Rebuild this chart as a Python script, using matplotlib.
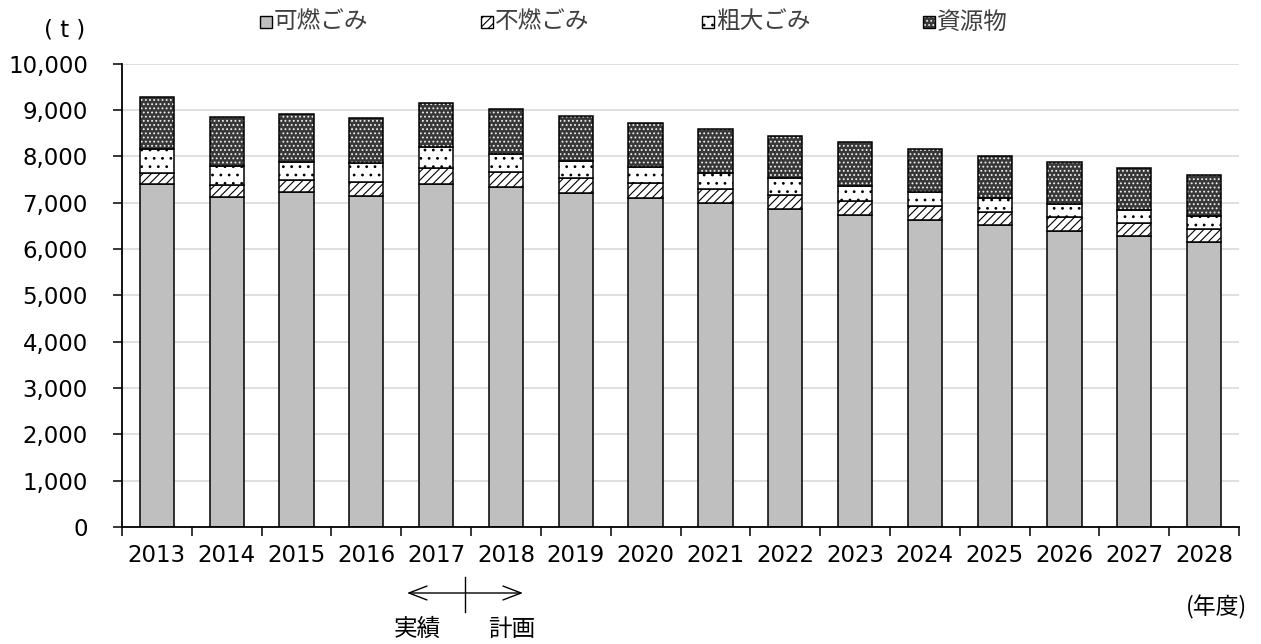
import matplotlib
matplotlib.use("Agg")
import matplotlib.pyplot as plt
from matplotlib.patches import Rectangle
import numpy as np

plt.rcParams['font.family'] = ['DejaVu Sans', 'Noto Sans CJK JP']
plt.rcParams['hatch.linewidth'] = 0.8

years = ['2013', '2014', '2015', '2016', '2017', '2018', '2019', '2020',
         '2021', '2022', '2023', '2024', '2025', '2026', '2027', '2028']
kanen = [7390, 7115, 7220, 7150, 7390, 7330, 7210, 7095,
         6980, 6855, 6740, 6617, 6510, 6385, 6277, 6147]
funen = [250, 268, 260, 290, 353, 325, 317, 324,
         316, 318, 303, 318, 290, 303, 281, 282]
sodai = [520, 395, 405, 410, 447, 382, 368, 353,
         333, 346, 316, 288, 300, 275, 290, 274]
shigen = [1120, 1066, 1020, 980, 966, 973, 965, 951,
          960, 923, 940, 937, 910, 917, 888, 888]
series_names = ['可燃ごみ', '不燃ごみ', '粗大ごみ', '資源物']
yticks = [0, 1000, 2000, 3000, 4000, 5000, 6000, 7000, 8000, 9000, 10000]

W, H = 1261, 644
fig = plt.figure(figsize=(W / 100, H / 100), dpi=100)
ax = fig.add_axes([122 / W, (H - 527) / H, (1239 - 122) / W, (527 - 63.5) / H])

x = np.arange(len(years))
bw = 0.49
lw = 1.1
k = np.array(kanen, dtype=float)
f = np.array(funen, dtype=float)
s = np.array(sodai, dtype=float)
r = np.array(shigen, dtype=float)

styles = [
    dict(color='#BFBFBF', edgecolor='black', hatch=None),
    dict(color='white', edgecolor='black', hatch='////'),
    dict(color='white', edgecolor='black', hatch='..'),
]

ax.bar(x, k, bw, color='#BFBFBF', edgecolor='black', linewidth=lw, zorder=3)
ax.bar(x, f, bw, bottom=k, color='white', edgecolor='black', linewidth=lw,
       hatch='////', zorder=3)
ax.bar(x, s, bw, bottom=k + f, color='white', edgecolor='black', linewidth=lw,
       hatch='..', zorder=3)
ax.bar(x, r, bw, bottom=k + f + s, color='#383838', edgecolor='#F0F0F0',
       linewidth=0, hatch='....', zorder=3)
ax.bar(x, r, bw, bottom=k + f + s, fill=False, edgecolor='black',
       linewidth=lw, zorder=4)

ax.set_xlim(-0.5, len(years) - 0.5)
ax.set_ylim(0, 10000)
ax.set_yticks(yticks)
ax.set_yticklabels([f'{v:,}' for v in yticks], fontsize=16.5)
ax.set_xticks(x)
ax.set_xticklabels(years, fontsize=16.5)
ax.set_xticks(np.arange(-0.5, len(years)), minor=True)
ax.tick_params(axis='x', which='major', length=0, pad=12)
ax.tick_params(axis='x', which='minor', length=6.5, width=1.1, direction='out')
ax.tick_params(axis='y', which='major', length=6.5, width=1.1, pad=18, direction='out')
ax.yaxis.grid(True, color='#D9D9D9', linewidth=1.2, zorder=0)
ax.set_axisbelow(True)
for sp in ['top', 'right']:
    ax.spines[sp].set_visible(False)
for sp in ['left', 'bottom']:
    ax.spines[sp].set_linewidth(1.3)
    ax.spines[sp].set_zorder(5)

# legend drawn manually (equal spacing as in the reference)
leg_x = [260, 481, 702, 923]
leg_y = 22
sq = 12
leg_styles = [
    [dict(facecolor='#BFBFBF', edgecolor='black', hatch=None, lw=1.0)],
    [dict(facecolor='white', edgecolor='black', hatch='////', lw=1.0)],
    [dict(facecolor='white', edgecolor='black', hatch='..', lw=1.0)],
    [dict(facecolor='#383838', edgecolor='#F0F0F0', hatch='....', lw=0),
     dict(facecolor='none', edgecolor='black', hatch=None, lw=1.0)],
]
for lx, name, sts in zip(leg_x, series_names, leg_styles):
    for st in sts:
        fig.add_artist(Rectangle((lx / W, 1 - (leg_y + sq / 2) / H), sq / W, sq / H,
                                 transform=fig.transFigure, facecolor=st['facecolor'],
                                 edgecolor=st['edgecolor'], hatch=st['hatch'],
                                 linewidth=st['lw']))
    fig.text((lx + sq + 2) / W, 1 - leg_y / H, name, ha='left', va='center',
             fontsize=17, color='#404040', family=['Noto Sans CJK JP'])

fig.text(65 / W, 1 - 30 / H, '( t )', ha='center', va='center', fontsize=16.5)
fig.text(1216 / W, 1 - 607 / H, '(年度)', ha='center', va='center', fontsize=16.5,
         family=['Noto Sans CJK JP'])

# actual / plan arrow
fig.add_artist(plt.Line2D([465 / W, 465 / W], [1 - 577 / H, 1 - 612 / H],
                          color='black', linewidth=1.0))
ax.annotate('', xy=(407 / W, 1 - 593 / H), xytext=(523 / W, 1 - 593 / H),
            xycoords='figure fraction', textcoords='figure fraction',
            arrowprops=dict(arrowstyle='<->,head_length=1.3,head_width=0.5',
                            color='black', linewidth=1.0, shrinkA=0, shrinkB=0))
fig.text(417 / W, 1 - 629 / H, '実績', ha='center', va='center', fontsize=17,
         family=['Noto Sans CJK JP'])
fig.text(512 / W, 1 - 629 / H, '計画', ha='center', va='center', fontsize=17,
         family=['Noto Sans CJK JP'])

fig.savefig('out.png', dpi=100)
